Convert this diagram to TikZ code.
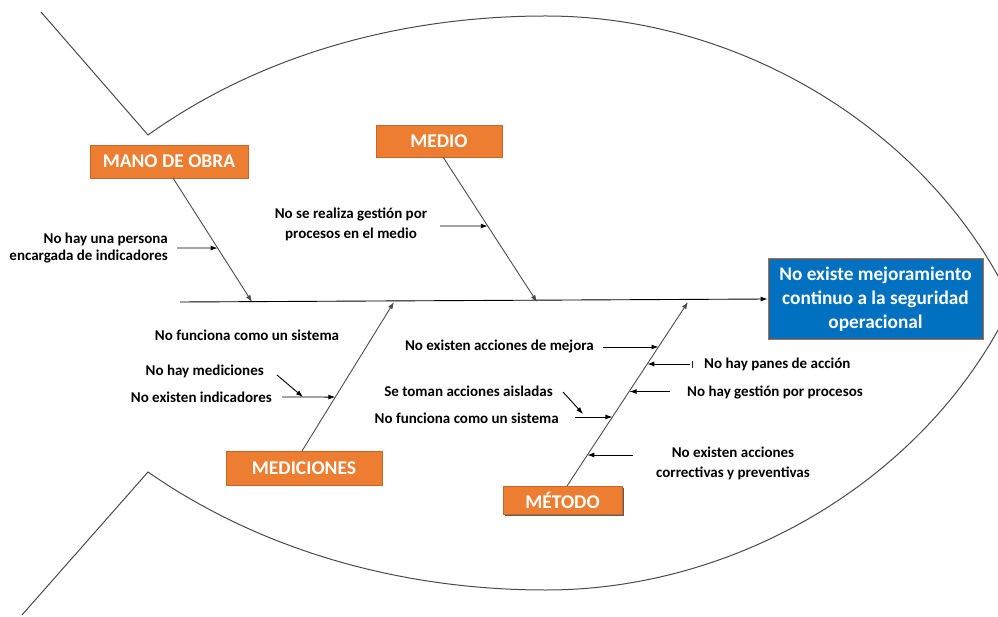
\documentclass[tikz,border=0pt]{standalone}
\usepackage{fontspec}
\setmainfont{Carlito}
\usetikzlibrary{arrows.meta,shadows,calc}
\definecolor{catorange}{HTML}{ED7D31}
\definecolor{catedge}{HTML}{C8662A}
\definecolor{effblue}{HTML}{0070C0}
\definecolor{outline}{HTML}{4A4A4A}
\tikzset{
  catbox/.style={fill=catorange, draw=catedge, line width=0.8pt, text=white,
    font=\bfseries\fontsize{19.5}{22}\selectfont, inner sep=0pt},
  effbox/.style={fill=effblue, draw=catedge, line width=0.8pt, text=white,
    font=\bfseries\fontsize{19.3}{24}\selectfont, align=center, inner sep=0pt},
  lbl/.style={font=\bfseries\fontsize{15}{17}\selectfont, inner sep=0pt},
  lbltwo/.style={font=\bfseries\fontsize{15}{20}\selectfont, inner sep=0pt, align=center},
  bone/.style={draw=black!70, line width=0.9pt, -{Latex[length=7pt,width=5pt]}},
  sub/.style={draw=black, line width=0.9pt, -{Latex[length=7pt,width=5pt]}},
  fish/.style={draw=outline, line width=1pt}
}
\begin{document}
\begin{tikzpicture}[x=1pt,y=-1pt]
\useasboundingbox (0,0) rectangle (998,617);

% fish outline: tail and body
\begin{scope}
\clip (0,0) rectangle (998,617);
\draw[fish] (41,12) -- (148,135)
  .. controls (260,55) and (400,16) .. (546,16)
  .. controls (740,16) and (930,130) .. (1012,303)
  .. controls (930,476) and (740,590) .. (546,590)
  .. controls (400,590) and (260,550) .. (148,472) -- (22,615);
\end{scope}

% effect box
\node[effbox, minimum width=215pt, minimum height=81pt] (effect) at (875.5,299)
  {No existe mejoramiento\\continuo a la seguridad\\operacional};

% category boxes
\node[catbox, minimum width=158pt, minimum height=33pt] (mano) at (169,161.5) {MANO DE OBRA};
\node[catbox, minimum width=126pt, minimum height=32pt] (medio) at (439,141) {MEDIO};
\node[catbox, minimum width=156pt, minimum height=34pt] (medic) at (304,468) {MEDICIONES};
\node[catbox, minimum width=119pt, minimum height=28pt,
  drop shadow={shadow xshift=2pt, shadow yshift=-2pt, opacity=0.85, fill=black!75}]
  (metodo) at (562.5,500) {MÉTODO};

% spine
\coordinate (tailend) at (180,302);
\draw[bone, draw=black] (tailend) -- (effect.west);

% bone ends on the spine and bone starts at the boxes
\coordinate (s1) at (252,302);
\coordinate (s2) at (537,302);
\coordinate (s3) at (394,302);
\coordinate (s4) at (688,302);
\coordinate (b1) at (173,178);
\coordinate (b2) at (443,157);
\coordinate (b3) at (302,451);
\coordinate (b4) at (567,486);

\draw[bone] (b1) -- (s1);
\draw[bone] (b2) -- (s2);
\draw[bone] (b3) -- (s3);
\draw[bone] (b4) -- (s4);

% points on the bones hit by cause arrows
\coordinate (p1) at ($(b1)!0.565!(s1)$);
\coordinate (p2) at ($(b2)!0.476!(s2)$);
\coordinate (p3) at ($(b3)!0.362!(s3)$);
\coordinate (q1) at (658.5,347);
\coordinate (q2) at (647.3,364);
\coordinate (q3) at (629.5,391.5);
\coordinate (q4) at (612.4,417);
\coordinate (q5) at (587.4,455);

% causes: mano de obra
\node[lbl, align=right, anchor=east] (t1) at (168,248)
  {No hay una persona\\encargada de indicadores};
\coordinate (a1) at (177,248);
\draw[sub] (a1) -- (p1);

% causes: medio
\node[lbltwo] (t2) at (351,224)
  {No se realiza gestión por\\procesos en el medio};
\coordinate (a2) at (440,226);
\draw[sub] (a2) -- (p2);

% causes: mediciones
\node[lbl] (t3) at (247,335) {No funciona como un sistema};
\node[lbl, anchor=east] (t4) at (264,371) {No hay mediciones};
\node[lbl, anchor=east] (t5) at (272,397) {No existen indicadores};
\coordinate (a5) at (282,397);
\draw[sub] (a5) -- (p3);
\coordinate (a4) at (277,375);
\coordinate (a4e) at (303,397);
\draw[sub] (a4) -- (a4e);

% causes: metodo
\node[lbl, anchor=east] (t6) at (594,347) {No existen acciones de mejora};
\coordinate (a6) at (603,347);
\draw[sub] (a6) -- (q1);

\node[lbl, anchor=west] (t7) at (704,364) {No hay panes de acción};
\coordinate (a7) at (690,364);
\draw[sub] (a7) -- (q2);
\fill[black!85] (691.5,360.5) rectangle (693.3,367.5);

\node[lbl, anchor=west] (t8) at (687,392) {No hay gestión por procesos};
\coordinate (a8) at (670,391.5);
\draw[sub] (a8) -- (q3);

\node[lbl, anchor=east] (t9) at (553,391) {Se toman acciones aisladas};
\coordinate (a9) at (563,392);
\coordinate (a9e) at (583,414);
\draw[sub] (a9) -- (a9e);

\node[lbl, anchor=east] (t10) at (559,418) {No funciona como un sistema};
\coordinate (a10) at (575,417);
\draw[sub] (a10) -- (q4);

\node[lbltwo] (t11) at (733,463)
  {No existen acciones\\correctivas y preventivas};
\coordinate (a11) at (633,455);
\draw[sub] (a11) -- (q5);
\end{tikzpicture}
\end{document}
